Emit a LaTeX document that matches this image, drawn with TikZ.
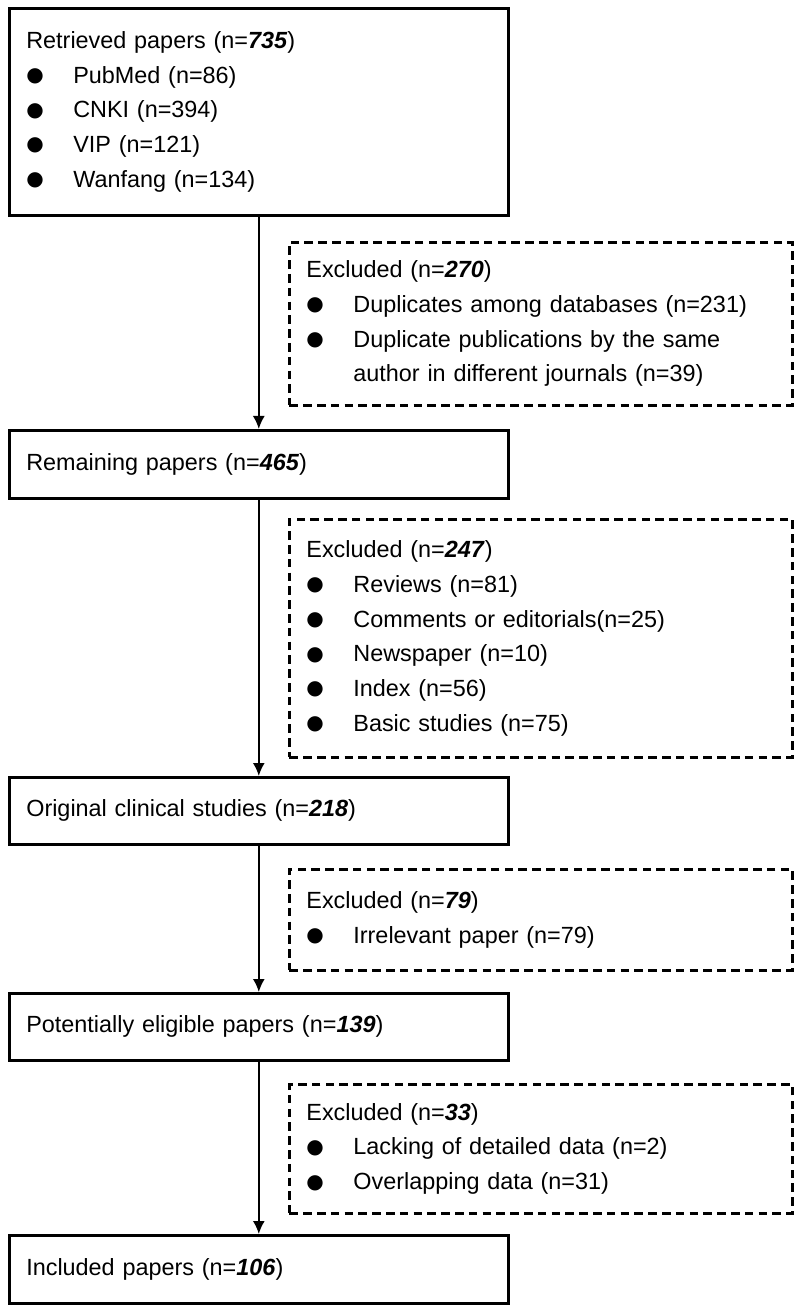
\documentclass[tikz,border=0pt]{standalone}
\usepackage{fontspec}
\setmainfont{Liberation Sans}
\newfontfamily\dotfont{DejaVu Sans}
\usetikzlibrary{arrows.meta}
\newcommand{\bul}{\makebox[23.5pt][l]{\raisebox{0.8pt}{\dotfont\fontsize{10pt}{10pt}\selectfont ●}}}
\newcommand{\nn}[1]{\textbf{\textit{#1}}}

\begin{document}
\begin{tikzpicture}[x=0.5pt,y=-0.5pt,>={Latex[length=6.5pt,width=6pt]},
  stage/.style={draw,line width=1.3pt,anchor=north west,align=left,
    inner xsep=8.5pt,minimum width=249.5pt,text width=232.5pt,
    font=\fontsize{11.7pt}{17.35pt}\selectfont},
  excl/.style={stage,dash pattern=on 4.3pt off 2.6pt,line width=1.4pt,
    minimum width=251.5pt,text width=234.5pt}]

\useasboundingbox (0,0) rectangle (800,1309);

% Main stages
\node[stage,minimum height=103.5pt] (retrieved) at (8,7) {Retrieved papers (n=\nn{735})\\
  \bul PubMed (n=86)\\
  \bul CNKI (n=394)\\
  \bul VIP (n=121)\\
  \bul Wanfang (n=134)};
\node[stage,minimum height=34pt] (remaining) at (8,429) {Remaining papers (n=\nn{465})};
\node[stage,minimum height=33.5pt] (original) at (8,776) {Original clinical studies (n=\nn{218})};
\node[stage,minimum height=33.5pt] (eligible) at (8,992) {Potentially eligible papers (n=\nn{139})};
\node[stage,minimum height=34pt] (included) at (8,1234) {Included papers (n=\nn{106})};

% Exclusions (dashed)
\node[excl,minimum height=81.5pt] (dup) at (288,241) {Excluded (n=\nn{270})\\
  \bul Duplicates among databases (n=231)\\
  \bul Duplicate publications by the same\\
  \hspace*{23.5pt}author in different journals (n=39)};
\node[excl,minimum height=119pt] (nonorig) at (288,518) {Excluded (n=\nn{247})\\
  \bul Reviews (n=81)\\
  \bul Comments or editorials(n=25)\\
  \bul Newspaper (n=10)\\
  \bul Index (n=56)\\
  \bul Basic studies (n=75)};
\node[excl,minimum height=50.5pt] (irrel) at (288,868) {Excluded (n=\nn{79})\\
  \bul Irrelevant paper (n=79)};
\node[excl,minimum height=64.5pt] (lack) at (288,1083) {Excluded (n=\nn{33})\\
  \bul Lacking of detailed data (n=2)\\
  \bul Overlapping data (n=31)};

% Flow
\foreach \a/\b in {retrieved/remaining,remaining/original,original/eligible,eligible/included}
  \draw[->,line width=0.9pt] (\a.south) -- (\b.north);
\end{tikzpicture}
\end{document}
